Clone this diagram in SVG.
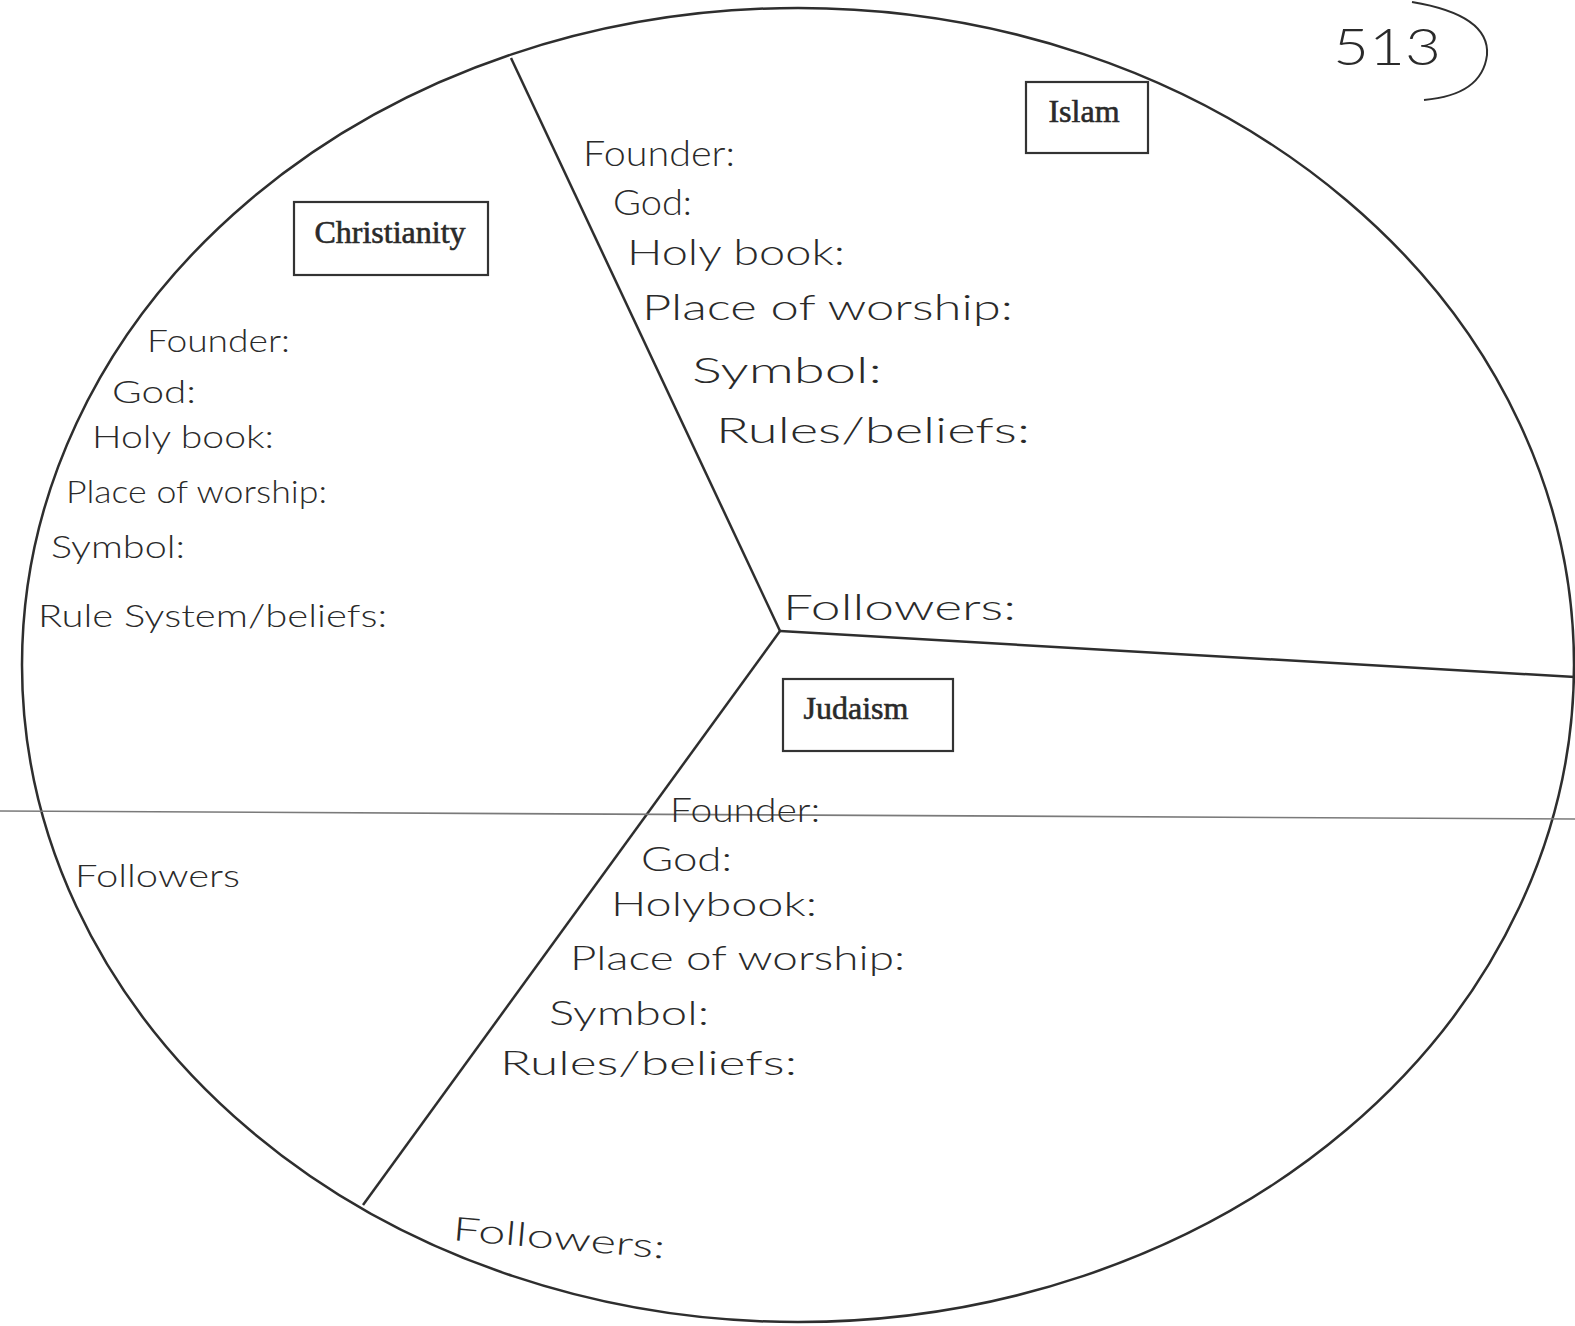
<svg xmlns="http://www.w3.org/2000/svg" width="1575" height="1326" viewBox="0 0 1575 1326">
<style>
.line{stroke:#2e2e2e;stroke-width:2.5;fill:none}
.guide{stroke:#7a7a7a;stroke-width:1.6;fill:none}
.box{fill:#fff;stroke:#333;stroke-width:2.2}
.title{font-family:"Liberation Serif",serif;font-size:32px;fill:#2a2a2a;stroke:#2a2a2a;stroke-width:0.6;text-anchor:middle}
.hw{font-family:Lato,"Open Sans",sans-serif;font-weight:300;fill:#2a2a2a}
.isl{font-size:36px}
.chr{font-size:31px}
.jud{font-size:33px}
</style>
<rect width="1575" height="1326" fill="#fff"/>
<g id="connectors">
<ellipse class="line" cx="798" cy="665" rx="776" ry="657"/>
<line class="line" x1="511" y1="58" x2="780" y2="631"/>
<line class="line" x1="780" y1="631" x2="1575" y2="677"/>
<line class="line" x1="780" y1="631" x2="363" y2="1205"/>
<line class="guide" x1="0" y1="811" x2="1575" y2="819"/>
</g>
<g id="christianity">
<rect class="box" x="294" y="202" width="194" height="73"/>
<text class="title" x="390" y="243">Christianity</text>
<text class="hw chr" x="147" y="352" textLength="143" lengthAdjust="spacingAndGlyphs">Founder:</text>
<text class="hw chr" x="112" y="403" textLength="84" lengthAdjust="spacingAndGlyphs">God:</text>
<text class="hw chr" x="92" y="448" textLength="182" lengthAdjust="spacingAndGlyphs">Holy book:</text>
<text class="hw chr" x="66" y="503" textLength="261" lengthAdjust="spacingAndGlyphs">Place of worship:</text>
<text class="hw chr" x="51" y="558" textLength="134" lengthAdjust="spacingAndGlyphs">Symbol:</text>
<text class="hw chr" x="38" y="627" textLength="349" lengthAdjust="spacingAndGlyphs">Rule System/beliefs:</text>
<text class="hw chr" x="75" y="887" textLength="165" lengthAdjust="spacingAndGlyphs">Followers</text>
</g>
<g id="islam">
<rect class="box" x="1026" y="82" width="122" height="71"/>
<text class="title" x="1084" y="122">Islam</text>
<text class="hw isl" x="583" y="166" textLength="152" lengthAdjust="spacingAndGlyphs">Founder:</text>
<text class="hw isl" x="613" y="215" textLength="79" lengthAdjust="spacingAndGlyphs">God:</text>
<text class="hw isl" x="627" y="265" textLength="218" lengthAdjust="spacingAndGlyphs">Holy book:</text>
<text class="hw isl" x="642" y="320" textLength="371" lengthAdjust="spacingAndGlyphs">Place of worship:</text>
<text class="hw isl" x="692" y="383" textLength="190" lengthAdjust="spacingAndGlyphs">Symbol:</text>
<text class="hw isl" x="716" y="443" textLength="314" lengthAdjust="spacingAndGlyphs">Rules/beliefs:</text>
<text class="hw isl" x="783" y="620" textLength="233" lengthAdjust="spacingAndGlyphs">Followers:</text>
</g>
<g id="judaism">
<rect class="box" x="783" y="679" width="170" height="72"/>
<text class="title" x="856" y="719">Judaism</text>
<text class="hw jud" x="670" y="822" textLength="150" lengthAdjust="spacingAndGlyphs">Founder:</text>
<text class="hw jud" x="641" y="871" textLength="91" lengthAdjust="spacingAndGlyphs">God:</text>
<text class="hw jud" x="611" y="916" textLength="206" lengthAdjust="spacingAndGlyphs">Holybook:</text>
<text class="hw jud" x="570" y="970" textLength="335" lengthAdjust="spacingAndGlyphs">Place of worship:</text>
<text class="hw jud" x="549" y="1025" textLength="160" lengthAdjust="spacingAndGlyphs">Symbol:</text>
<text class="hw jud" x="500" y="1075" textLength="297" lengthAdjust="spacingAndGlyphs">Rules/beliefs:</text>
<text class="hw jud" x="452" y="1240" textLength="213" lengthAdjust="spacingAndGlyphs" transform="rotate(5 452 1240)">Followers:</text>
</g>
<g id="note">
<text class="hw" x="1333" y="65" font-size="52" textLength="108" lengthAdjust="spacingAndGlyphs">513</text>
<path class="line" style="stroke-width:2" d="M1412 2 Q1490 15 1487 55 Q1482 95 1424 100"/>
</g>
</svg>
